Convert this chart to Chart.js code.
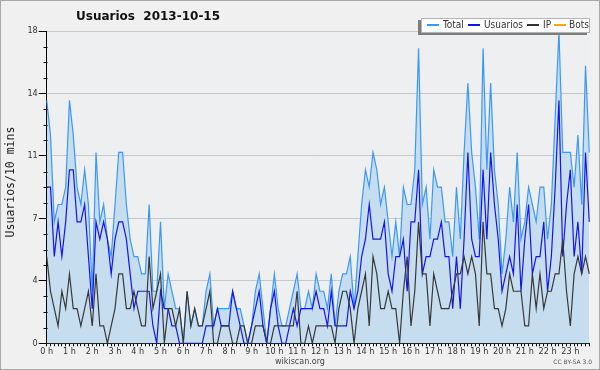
<!DOCTYPE html>
<html>
<head>
<meta charset="utf-8">
<script src="https://cdn.jsdelivr.net/npm/chart.js@4.4.0/dist/chart.umd.min.js"></script>
<style>
html,body{margin:0;padding:0;background:#f0f0f0;}
#wrap{position:relative;width:600px;height:370px;background:#f0f0f0;overflow:hidden;}
#c{position:absolute;left:0;top:0;}
.frame{position:absolute;left:0;top:0;width:600px;height:370px;box-sizing:border-box;border:1px solid #a9a9a9;pointer-events:none;}
.t{position:absolute;white-space:nowrap;}
#title{left:76px;top:9px;font:bold 12px "DejaVu Sans";color:#111;line-height:14px;}
#legend{position:absolute;left:421px;top:18px;width:167px;height:13px;background:#fff;border:1px solid #b4b4b4;box-shadow:-3px 2px 0 #7d7d7d;z-index:1;}
.ll{position:absolute;top:24px;width:12px;height:2px;z-index:2;}
.lt{font:10px "DejaVu Sans Condensed","DejaVu Sans";color:#333;top:19px;line-height:12px;z-index:2;}
#ytitle{left:-90px;top:175px;width:200px;height:14px;line-height:14px;text-align:center;transform:rotate(-90deg);font:11.5px "DejaVu Sans Mono";color:#222;}
#foot{left:250px;width:100px;text-align:center;top:357px;font:8px "DejaVu Sans";color:#444;line-height:10px;}
#cc{right:8px;top:358px;font:6px "DejaVu Sans";color:#555;line-height:8px;}
</style>
</head>
<body>
<div id="wrap">
<canvas id="c" width="600" height="370"></canvas>
<div class="t" id="title">Usuarios&nbsp;&nbsp;2013-10-15</div>
<div id="legend"></div>
<div class="ll" style="left:427px;background:#3b98f5"></div>
<div class="t lt" style="left:443px">Total</div>
<div class="ll" style="left:468px;background:#1414f0"></div>
<div class="t lt" style="left:484px">Usuarios</div>
<div class="ll" style="left:527px;background:#333"></div>
<div class="t lt" style="left:543px">IP</div>
<div class="ll" style="left:554px;background:#ffa500"></div>
<div class="t lt" style="left:569px">Bots</div>
<div class="t" id="ytitle">Usuarios/10 mins</div>
<div class="t" id="foot">wikiscan.org</div>
<div class="t" id="cc">CC BY-SA 3.0</div>
<div class="frame"></div>
</div>
<script>
const times = ["00:00","00:10","00:20","00:30","00:40","00:50","01:00","01:10","01:20","01:30","01:40","01:50",
"02:00","02:10","02:20","02:30","02:40","02:50","03:00","03:10","03:20","03:30","03:40","03:50",
"04:00","04:10","04:20","04:30","04:40","04:50","05:00","05:10","05:20","05:30","05:40","05:50",
"06:00","06:10","06:20","06:30","06:40","06:50","07:00","07:10","07:20","07:30","07:40","07:50",
"08:00","08:10","08:20","08:30","08:40","08:50","09:00","09:10","09:20","09:30","09:40","09:50",
"10:00","10:10","10:20","10:30","10:40","10:50","11:00","11:10","11:20","11:30","11:40","11:50",
"12:00","12:10","12:20","12:30","12:40","12:50","13:00","13:10","13:20","13:30","13:40","13:50",
"14:00","14:10","14:20","14:30","14:40","14:50","15:00","15:10","15:20","15:30","15:40","15:50",
"16:00","16:10","16:20","16:30","16:40","16:50","17:00","17:10","17:20","17:30","17:40","17:50",
"18:00","18:10","18:20","18:30","18:40","18:50","19:00","19:10","19:20","19:30","19:40","19:50",
"20:00","20:10","20:20","20:30","20:40","20:50","21:00","21:10","21:20","21:30","21:40","21:50",
"22:00","22:10","22:20","22:30","22:40","22:50","23:00","23:10","23:20","23:30","23:40","23:50"];

const hourLabels = ["0 h","1 h","2 h","3 h","4 h","5 h","6 h","7 h","8 h","9 h","10 h","11 h",
"12 h","13 h","14 h","15 h","16 h","17 h","18 h","19 h","20 h","21 h","22 h","23 h"];

const yTickValues = [0, 3.6, 7.2, 10.8, 14.4, 18];
const yTickLabels = ["0","4","7","11","14","18"];

const total = [14,12,7,8,8,9, 14,12,9,8,10,8, 3,11,7,8,6,5, 8,11,11,8,6,5,
5,4,4,8,3,3, 7,2,4,3,2,2, 0,3,1,2,1,1, 3,4,1,2,2,2,
2,3,2,2,1,0, 1,3,4,2,0,2, 4,2,1,1,2,3, 4,2,2,3,2,4,
3,3,2,4,1,3, 4,4,5,2,5,8, 10,9,11,10,8,9, 7,5,7,5,9,8,
8,10,17,8,9,6, 10,9,9,7,7,5, 9,6,11,15,11,9, 6,17,10,15,10,8,
4,6,9,7,11,6, 7,9,8,7,9,9, 6,8,13,18,11,11, 11,9,12,8,16,11];

const usuarios = [9,9,5,7,5,7, 10,10,7,7,8,5, 2,7,6,7,6,4, 6,7,7,6,4,2,
3,3,3,3,1,0, 3,2,2,1,1,0, 0,0,0,0,0,0, 1,1,1,2,1,1,
1,3,2,1,0,0, 1,2,3,1,0,2, 3,1,0,0,1,2, 1,2,2,2,2,3,
2,2,1,3,1,1, 1,1,3,2,3,5, 6,8,6,6,6,7, 4,3,5,5,6,3,
7,7,10,4,5,5, 6,6,7,5,5,2, 5,2,6,11,6,5, 5,10,6,11,8,6,
3,4,5,4,8,3, 6,8,4,5,5,7, 3,5,9,14,5,8, 10,5,7,4,11,7];

const ip = [5,3,2,1,3,2, 4,2,2,1,2,3, 1,4,1,1,0,1, 2,4,4,2,2,3,
2,1,1,5,2,3, 4,0,2,2,1,2, 0,3,1,2,1,1, 2,3,0,0,1,1,
1,0,0,1,1,0, 0,1,1,1,0,0, 1,1,1,1,1,1, 3,0,0,1,0,1,
1,1,1,1,0,2, 3,3,2,0,2,3, 4,1,5,4,2,2, 3,2,2,0,3,5,
1,3,7,4,4,1, 4,3,2,2,2,3, 4,4,5,4,5,4, 1,7,4,4,2,2,
1,2,4,3,3,3, 1,1,4,2,4,2, 3,3,4,4,6,3, 1,4,5,4,5,4];

const bots = [0,0,0,0,0,0, 0,0,0,0,0,0, 0,0,0,0,0,0, 0,0,0,0,0,0,
0,0,0,0,0,0, 0,0,0,0,0,0, 0,0,0,0,0,0, 0,0,0,0,0,0,
0,0,0,0,0,0, 0,0,0,0,0,0, 0,0,0,0,0,0, 0,0,0,0,0,0,
0,0,0,0,0,0, 0,0,0,0,0,0, 0,0,0,0,0,0, 0,0,0,0,0,0,
0,0,0,0,0,0, 0,0,0,0,0,0, 0,0,0,0,0,0, 0,0,0,0,0,0,
0,0,0,0,0,0, 0,0,0,0,0,0, 0,0,0,0,0,0, 0,0,0,0,0,0];

const bgPlugin = {
  id: 'bg',
  beforeDraw(chart) {
    const {ctx, chartArea: a} = chart;
    ctx.save();
    ctx.fillStyle = '#eeeff1';
    ctx.fillRect(a.left, a.top, a.right - a.left, a.bottom - a.top);
    ctx.restore();
  },
  afterDraw(chart) {
    const {ctx, chartArea: a, scales} = chart;
    const y = scales.y;
    ctx.save();
    ctx.strokeStyle = '#000';
    ctx.lineWidth = 1;
    ctx.beginPath();
    for (let k = 1; k < 20; k++) {
      if (k % 4 === 0) continue;
      const py = Math.round(y.getPixelForValue(k * 0.9)) + 0.5;
      const px = Math.round(a.left) + 0.5;
      ctx.moveTo(px - 4, py);
      ctx.lineTo(px, py);
    }
    ctx.stroke();
    ctx.restore();
  }
};

const lineDs = (label, data, color, order, extra) => Object.assign({
  label, data, borderColor: color, borderWidth: 1.2, pointRadius: 0,
  tension: 0, fill: false, order
}, extra || {});

new Chart(document.getElementById('c'), {
  type: 'line',
  data: {
    labels: times,
    datasets: [
      lineDs('Total', total, '#3b98f5', 4, {fill: 'origin', backgroundColor: '#c6ddf0'}),
      lineDs('Usuarios', usuarios, '#1414f0', 3),
      lineDs('IP', ip, '#383838', 2),
      lineDs('Bots', bots, '#ffa500', 5, {borderWidth: 1})
    ]
  },
  options: {
    responsive: false,
    animation: false,
    events: [],
    layout: {padding: {left: 0, top: 31, right: 10.7, bottom: 10.7}},
    plugins: {legend: {display: false}, tooltip: {enabled: false}, title: {display: false}},
    scales: {
      x: {
        type: 'category',
        offset: false,
        z: 1,
        grid: {display: true, drawOnChartArea: false, drawTicks: true, tickLength: 3, color: '#000', offset: false},
        border: {display: true, color: '#000', width: 1},
        ticks: {
          autoSkip: false, maxRotation: 0, minRotation: 0, padding: 0,
          color: '#333',
          font: {family: '"DejaVu Sans Condensed","DejaVu Sans"', size: 9},
          callback: (v, i) => (i % 6 === 0 ? hourLabels[i / 6] : '')
        },
        afterFit: s => { s.height = 16; }
      },
      y: {
        min: 0, max: 18,
        afterBuildTicks: s => { s.ticks = yTickValues.map(v => ({value: v})); },
        grid: {
          color: c => (c.tick && c.tick.value === 0 ? 'rgba(0,0,0,0)' : '#c8c8c8'),
          tickColor: '#000', tickLength: 8, lineWidth: 1
        },
        border: {display: true, color: '#000', width: 1},
        ticks: {
          padding: 1, color: '#333',
          font: {family: '"DejaVu Sans Condensed","DejaVu Sans"', size: 9},
          callback: (v, i) => yTickLabels[i]
        },
        afterFit: s => { s.width = 46.7; }
      }
    }
  },
  plugins: [bgPlugin]
});
</script>
</body>
</html>
